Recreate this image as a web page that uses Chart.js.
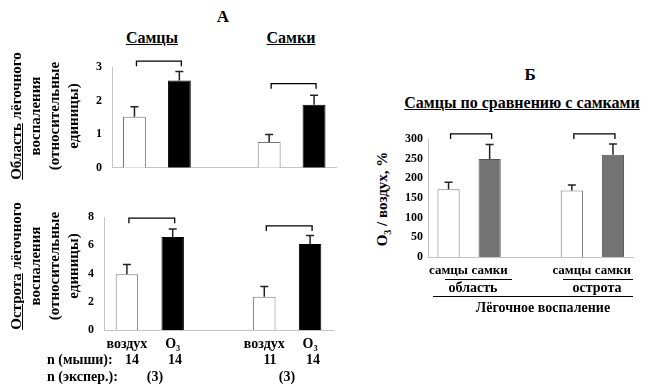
<!DOCTYPE html>
<html>
<head>
<meta charset="utf-8">
<script src="https://cdn.jsdelivr.net/npm/chart.js@4.4.1/dist/chart.umd.min.js"></script>
<style>
    body { margin: 0; background: #fff; width: 659px; height: 387px; position: relative; overflow: hidden;
           font-family: "Liberation Serif", "DejaVu Serif", serif; font-weight: bold; color: #000; }
    canvas { position: absolute; }
    .t { position: absolute; white-space: nowrap; transform: translate(-50%, -50%); font-size: 14px; }
    .l { position: absolute; white-space: nowrap; transform: translateY(-50%); font-size: 14px; }
    .u { text-decoration: underline; }
    .rot { position: absolute; width: 230px; transform: rotate(-90deg); text-align: center; font-size: 15px; line-height: 19px; white-space: nowrap; }
    .line { position: absolute; border-top: 1px solid #000; height: 0; }
</style>
</head>
<body>
<canvas id="areaChart" width="265" height="135" style="left:80px;top:50px"></canvas>
<canvas id="severityChart" width="270" height="185" style="left:70px;top:200px"></canvas>
<canvas id="ratioChart" width="255" height="160" style="left:395px;top:120px"></canvas>

<div class="t" style="left:223px;top:17px;font-size:17px">А</div>
<div class="t u" style="left:152px;top:38px;font-size:16px">Самцы</div>
<div class="t u" style="left:291px;top:38px;font-size:16px">Самки</div>

<div class="rot" style="left:-70px;top:78px"><span class="u">Область</span> лёгочного<br>воспаления<br>(относительные<br>единицы)</div>
<div class="rot" style="left:-70px;top:228px"><span class="u">Острота</span> лёгочного<br>воспаления<br>(относительные<br>единицы)</div>

<div class="l" style="left:47px;top:360px">n (мыши):</div>
<div class="t" style="left:132px;top:360px">14</div>
<div class="t" style="left:175px;top:360px">14</div>
<div class="t" style="left:270px;top:360px">11</div>
<div class="t" style="left:313px;top:360px">14</div>
<div class="l" style="left:47px;top:377px">n (экспер.):</div>
<div class="t" style="left:155px;top:377px">(3)</div>
<div class="t" style="left:287px;top:377px">(3)</div>

<div class="t" style="left:530px;top:75px;font-size:17px">Б</div>
<div class="t u" style="left:522px;top:103px;font-size:16px">Самцы по сравнению с самками</div>
<div class="t" style="left:383px;top:199px;transform:translate(-50%,-50%) rotate(-90deg);font-size:15px">O<sub style="font-size:10px">3</sub> / воздух, %</div>
<div class="line" style="left:445px;top:279px;width:67px"></div>
<div class="line" style="left:563px;top:279px;width:70px"></div>
<div class="t" style="left:473px;top:288px">область</div>
<div class="t" style="left:597px;top:288px">острота</div>
<div class="line" style="left:433px;top:296px;width:200px"></div>
<div class="t" style="left:543px;top:308px">Лёгочное воспаление</div>

<script>
// Panel A: воздух / O3, males then females (empty slot between the groups)
const categoriesA = ['воздух', 'O₃', '', 'воздух', 'O₃'];
const areaValues = [1.52, 2.6, null, 0.77, 1.88];
const areaErrors = [0.3, 0.27, null, 0.22, 0.28];
const areaBrackets = [[0, 1, 3.18], [3, 4, 2.51]];

const severityValues = [3.95, 6.6, null, 2.35, 6.1];
const severityErrors = [0.7, 0.57, null, 0.73, 0.6];
const severityBrackets = [[0, 1, 7.93], [3, 4, 7.38]];

// Panel Б: O3 / воздух in %
const categoriesB = ['самцы', 'самки', '', 'самцы', 'самки'];
const ratioValues = [172, 249, null, 169, 260];
const ratioErrors = [18, 37, null, 14, 27];
const ratioBrackets = [[0, 1, 313], [3, 4, 313]];

Chart.defaults.font.family = '"Liberation Serif", "DejaVu Serif", serif';
Chart.defaults.font.weight = 'bold';
Chart.defaults.color = '#000';

// error bars (upward only) and significance brackets
const errorBars = {
    id: 'errorBars',
    afterDatasetsDraw(chart, args, opts) {
        const ctx = chart.ctx;
        const meta = chart.getDatasetMeta(0);
        const y = chart.scales.y;
        const data = chart.data.datasets[0].data;
        ctx.save();
        ctx.strokeStyle = '#222';
        ctx.lineWidth = 1.5;
        opts.errors.forEach((e, i) => {
            if (e == null) return;
            const bar = meta.data[i];
            const top = y.getPixelForValue(data[i] + e);
            ctx.beginPath();
            ctx.moveTo(bar.x, bar.y);
            ctx.lineTo(bar.x, top);
            ctx.moveTo(bar.x - 4, top);
            ctx.lineTo(bar.x + 4, top);
            ctx.stroke();
        });
        ctx.strokeStyle = '#000';
        ctx.lineWidth = 1.3;
        opts.brackets.forEach(([a, b, v]) => {
            const x1 = meta.data[a].x + 2, x2 = meta.data[b].x + 2;
            const yy = y.getPixelForValue(v);
            ctx.beginPath();
            ctx.moveTo(x1, yy + 5);
            ctx.lineTo(x1, yy);
            ctx.lineTo(x2, yy);
            ctx.lineTo(x2, yy + 5);
            ctx.stroke();
        });
        ctx.restore();
    }
};

function makeChart(id, labels, values, errors, brackets, cfg) {
    new Chart(document.getElementById(id), {
        type: 'bar',
        data: {
            labels: labels,
            datasets: [{
                data: values,
                backgroundColor: cfg.fill,
                borderColor: cfg.border,
                borderWidth: 1,
                barPercentage: cfg.barPct,
                categoryPercentage: 1
            }]
        },
        options: {
            responsive: false,
            animation: false,
            devicePixelRatio: 1,
            layout: { padding: cfg.padding },
            plugins: {
                legend: { display: false },
                tooltip: { enabled: false },
                errorBars: { errors: errors, brackets: brackets }
            },
            scales: {
                x: {
                    grid: { display: false, drawTicks: false },
                    border: { color: '#c4c4c4' },
                    ticks: { display: cfg.showX, padding: 6, maxRotation: 0, minRotation: 0, autoSkip: false, font: { size: cfg.xFont } },
                    afterFit(s) { s.height = cfg.xHeight; }
                },
                y: {
                    min: 0,
                    max: cfg.max,
                    grid: { display: false, drawTicks: false },
                    border: { color: '#c4c4c4' },
                    ticks: { stepSize: cfg.step, padding: cfg.yPad, font: { size: 12 } },
                    afterFit(s) { s.width = cfg.yWidth; }
                }
            }
        },
        plugins: [errorBars]
    });
}

makeChart('areaChart', categoriesA, areaValues, areaErrors, areaBrackets, {
    fill: ['#fff', '#000', '#fff', '#fff', '#000'],
    border: ['#777', '#000', '#777', '#777', '#000'],
    barPct: 0.51, max: 3, step: 1, yPad: 10, yWidth: 32, xHeight: 10, showX: false, xFont: 14,
    padding: { top: 15.5, left: 0, right: 8.5, bottom: 1 }
});

makeChart('severityChart', categoriesA, severityValues, severityErrors, severityBrackets, {
    fill: ['#fff', '#000', '#fff', '#fff', '#000'],
    border: ['#777', '#000', '#777', '#777', '#000'],
    barPct: 0.49, max: 8, step: 2, yPad: 10, yWidth: 34, xHeight: 22, showX: true, xFont: 14,
    padding: { top: 13, left: 0, right: 7, bottom: 33 }
});

makeChart('ratioChart', categoriesB, ratioValues, ratioErrors, ratioBrackets, {
    fill: ['#fff', '#737373', '#fff', '#fff', '#737373'],
    border: ['#777', '#555', '#777', '#777', '#555'],
    barPct: 0.54, max: 300, step: 50, yPad: 5, yWidth: 33, xHeight: 20, showX: true, xFont: 13,
    padding: { top: 19, left: 0, right: 16.5, bottom: 3 }
});
</script>
</body>
</html>
